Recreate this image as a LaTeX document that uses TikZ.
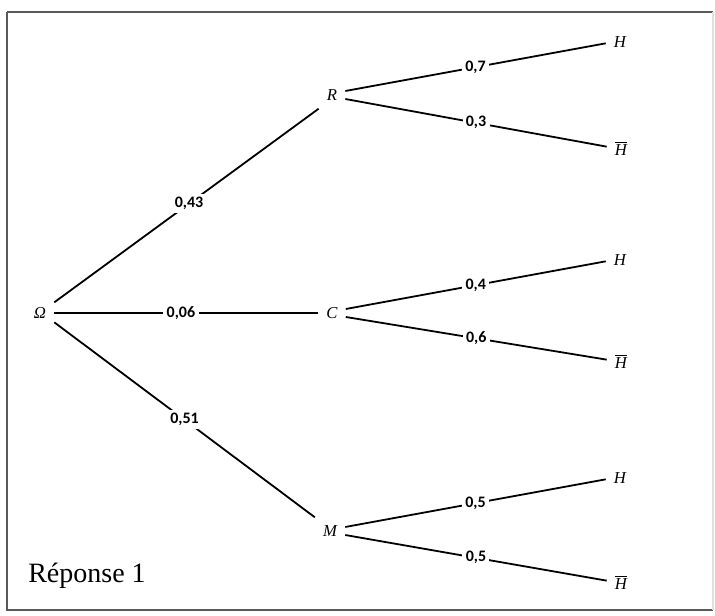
\documentclass[tikz,border=0pt]{standalone}
\usepackage{amsmath}
\usepackage{fontspec}
\newfontfamily\lblfont{Carlito}
\newfontfamily\txtfont{Liberation Serif}
\newcommand{\evt}[1]{{\txtfont\itshape #1}}
\newcommand{\evbar}[1]{$\overline{\mbox{\txtfont\itshape #1}}$}
\begin{document}
\begin{tikzpicture}[x=0.75pt,y=-0.75pt,
  ev/.style={inner sep=6pt, font=\fontsize{12.5}{14}\selectfont},
  lbl/.style={fill=white, inner sep=2.5pt, font=\lblfont\bfseries\fontsize{12}{14}\selectfont},
  br/.style={line width=1.35pt, black},
  frame/.style={line width=1.1pt, black!65}]
\useasboundingbox (0,0) rectangle (715,616);
\fill[white] (0,0) rectangle (715,616);
% frame
\draw[frame] (7,12) -- (713,12);
\draw[frame] (7,12) -- (7,610) -- (713,610);
\draw[line width=0.8pt, black!12] (713,12) -- (713,610);
% nodes
\node[ev] (O) at (40,313) {\evt{Ω}};
\node[ev] (R) at (332,95) {\evt{R}};
\node[ev] (C) at (332,313) {\evt{C}};
\node[ev] (M) at (330,531) {\evt{M}};
\node[ev] (H1) at (620,42) {\evt{H}};
\node[ev] (Hb1) at (621,148) {\evbar{H}};
\node[ev] (H2) at (620,260) {\evt{H}};
\node[ev] (Hb2) at (621,361) {\evbar{H}};
\node[ev] (H3) at (620,478) {\evt{H}};
\node[ev] (Hb3) at (621,582) {\evbar{H}};
% first level
\draw[br] ([yshift=8pt]O.east) -- (R.south west) node[lbl, pos=0.51] {0,43};
\draw[br] (O.east) -- (C.west) node[lbl, pos=0.48] {0,06};
\draw[br] ([yshift=-7pt]O.east) -- (M.north west) node[lbl, pos=0.5] {0,51};
% second level
\draw[br] ([yshift=3pt]R.east) -- ([yshift=-1pt]H1.west) node[lbl, pos=0.5] {0,7};
\draw[br] ([yshift=-3pt]R.east) -- ([yshift=1pt]Hb1.west) node[lbl, pos=0.5] {0,3};
\draw[br] ([yshift=3pt]C.east) -- ([yshift=-1pt]H2.west) node[lbl, pos=0.5] {0,4};
\draw[br] ([yshift=-3pt]C.east) -- ([yshift=1pt]Hb2.west) node[lbl, pos=0.5] {0,6};
\draw[br] ([yshift=3pt]M.east) -- ([yshift=-1pt]H3.west) node[lbl, pos=0.5] {0,5};
\draw[br] ([yshift=-3pt]M.east) -- ([yshift=1pt]Hb3.west) node[lbl, pos=0.5] {0,5};
% caption
\node[anchor=base west, inner sep=0pt, font=\txtfont\fontsize{21}{24}\selectfont] (rep) at (28,583) {Réponse 1};
\end{tikzpicture}
\end{document}
